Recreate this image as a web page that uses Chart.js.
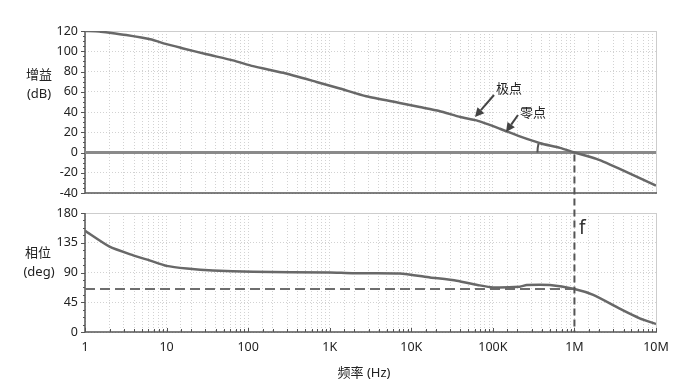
<!DOCTYPE html>
<html><head><meta charset="utf-8">
<script src="https://cdn.jsdelivr.net/npm/chart.js@4"></script>
<style>
html,body{margin:0;padding:0;background:#fff;overflow:hidden}
#wrap{position:relative;width:687px;height:381px}
canvas{position:absolute;left:0;top:0}
</style></head><body>
<div id="wrap"><canvas id="c1" width="687" height="381"></canvas><canvas id="c2" width="687" height="381"></canvas></div>
<script>
// ---- data ----
const freqGain = [1, 1.5, 2, 3.2, 6.3, 10, 16, 31, 65, 115, 270, 690, 1330, 2800, 7200, 12700, 22000, 40000, 63000, 122000, 214000, 380000, 665000, 1000000, 1860000, 4000000, 10000000];
const gainDb   = [120, 119.5, 118.3, 116, 111.8, 107, 102.8, 97, 91, 85.3, 78.7, 69.7, 63.2, 55.5, 48.9, 44.9, 41, 35, 31.7, 23.5, 15.9, 9.2, 4.6, 0, -6.3, -17.8, -32.7];
const freqPhase = [1, 2, 3.9, 6.3, 10, 17.7, 37, 115, 1000, 1900, 7200, 17000, 36000, 69000, 100000, 214000, 260000, 500000, 1000000, 1700000, 3900000, 6300000, 10000000];
const phaseDeg  = [153, 129, 116, 108, 100, 96, 93, 91, 90, 89, 88.6, 82.6, 77.6, 70.5, 67.5, 68.5, 71, 71, 65, 56, 33, 20.7, 12];
const zeroLineFreq = [1, 10000000];
const zeroLineDb = [0, 0];
const refPhaseFreq = [1, 1000000];
const refPhaseDeg = [65, 65];
const crossoverFreq = 1000000;
const xTickLabels = ['1', '10', '100', '1K', '10K', '100K', '1M', '10M'];
const gainRange = [-40, 120], gainStep = 20;
const phaseRange = [0, 180], phaseStep = 45;

const FONT = '"Noto Sans", "Noto Sans CJK SC", sans-serif';
const AXIS = '#555';
const GRID = '#d2d2d2';
const CURVE = '#686868';
const TXT = '#222';

const pts = (xs, ys) => xs.map((x, i) => ({x: x, y: ys[i]}));

function xLabel(v) {
  const l = Math.log10(v);
  const r = Math.round(l);
  if (Math.abs(l - r) < 1e-6 && r >= 0 && r < xTickLabels.length) return xTickLabels[r];
  return '';
}

function xScale(showLabels, h) {
  return {
    type: 'logarithmic', min: 1, max: 1e7,
    grid: {color: GRID, lineWidth: 1, drawTicks: false},
    border: {display: false, dash: [1, 2]},
    ticks: {display: showLabels, autoSkip: false, maxRotation: 0, minRotation: 0, padding: 8,
            color: TXT, font: {family: FONT, size: 12.5}, callback: (v) => xLabel(v)},
    afterFit: (s) => { s.height = h; }
  };
}
function yScale(range, step) {
  return {
    type: 'linear', min: range[0], max: range[1],
    grid: {color: GRID, lineWidth: 1, drawTicks: false},
    border: {display: false, dash: [1, 2]},
    ticks: {stepSize: step, padding: 7, color: TXT, font: {family: FONT, size: 12.5}},
    afterFit: (s) => { s.width = 85; }
  };
}

function frame(ctx, ca, topLight) {
  ctx.save();
  ctx.strokeStyle = '#cdcdcd'; ctx.lineWidth = 1;
  ctx.beginPath();
  ctx.moveTo(ca.left, ca.top + 0.5); ctx.lineTo(ca.right + 0.5, ca.top + 0.5);
  ctx.lineTo(ca.right + 0.5, ca.bottom);
  ctx.stroke();
  ctx.strokeStyle = AXIS; ctx.lineWidth = 1.5;
  ctx.beginPath();
  ctx.moveTo(ca.left, ca.top); ctx.lineTo(ca.left, ca.bottom); ctx.lineTo(ca.right + 1, ca.bottom);
  ctx.stroke();
  ctx.restore();
}
function yTicks(ctx, chart, range, major, minor) {
  const s = chart.scales.y, ca = chart.chartArea;
  ctx.save(); ctx.strokeStyle = AXIS; ctx.lineWidth = 1;
  for (let v = range[0]; v <= range[1] + 1e-9; v += minor) {
    const y = Math.round(s.getPixelForValue(v)) + 0.5;
    const isMajor = Math.abs((v - range[0]) % major) < 1e-6 || Math.abs(((v - range[0]) % major) - major) < 1e-6;
    const len = isMajor ? 4 : 2;
    ctx.beginPath(); ctx.moveTo(ca.left - len, y); ctx.lineTo(ca.left, y); ctx.stroke();
  }
  ctx.restore();
}
function arrow(ctx, x1, y1, x2, y2) {
  const a = Math.atan2(y2 - y1, x2 - x1);
  const hl = 9, hw = 4.5;
  const bx = x2 - hl * Math.cos(a), by = y2 - hl * Math.sin(a);
  ctx.beginPath(); ctx.moveTo(x1, y1); ctx.lineTo(bx, by); ctx.stroke();
  ctx.beginPath();
  ctx.moveTo(x2, y2);
  ctx.lineTo(bx + hw * Math.sin(a), by - hw * Math.cos(a));
  ctx.lineTo(bx - hw * Math.sin(a), by + hw * Math.cos(a));
  ctx.closePath(); ctx.fill();
}

const topPlugin = {
  id: 'topDecor',
  beforeDatasetsDraw(chart) {
    frame(chart.ctx, chart.chartArea);
    yTicks(chart.ctx, chart, gainRange, gainStep, 5);
  },
  afterDatasetsDraw(chart) {
    const ctx = chart.ctx;
    const xs = chart.scales.x, ys = chart.scales.y;
    const cx = xs.getPixelForValue(crossoverFreq), cy = ys.getPixelForValue(0);
    ctx.save();
    ctx.strokeStyle = '#444'; ctx.fillStyle = '#444'; ctx.lineWidth = 2;
    arrow(ctx, 494, 95, 475, 117);
    arrow(ctx, 518, 115, 506, 132);
    // angle arc
    ctx.strokeStyle = '#555'; ctx.lineWidth = 2;
    ctx.beginPath(); ctx.arc(cx, cy, 37, Math.PI, Math.PI + 0.24); ctx.stroke();
    ctx.fillStyle = TXT;
    ctx.font = '13px ' + FONT;
    ctx.textBaseline = 'middle'; ctx.textAlign = 'left';
    ctx.fillText('极点', 496, 89);
    ctx.fillText('零点', 520, 113);
    ctx.restore();
  }
};

const commonOpts = {
  responsive: false, animation: false, events: [],
  plugins: {legend: {display: false}, tooltip: {enabled: false}},
  elements: {point: {radius: 0}, line: {tension: 0.2}}
};

const chart1 = new Chart(document.getElementById('c1'), {
  type: 'line',
  data: {datasets: [
    {data: pts(freqGain, gainDb), borderColor: CURVE, borderWidth: 2.5, order: 0, fill: false},
    {data: pts(zeroLineFreq, zeroLineDb), borderColor: '#8a8a8a', borderWidth: 3, order: 1, fill: false, tension: 0}
  ]},
  options: Object.assign({}, commonOpts, {
    layout: {padding: {top: 31, right: 31, bottom: 188, left: 0}},
    scales: {x: xScale(false, 0), y: yScale(gainRange, gainStep)}
  }),
  plugins: [topPlugin]
});

const bottomPlugin = {
  id: 'bottomDecor',
  beforeDatasetsDraw(chart) {
    const ctx = chart.ctx, ca = chart.chartArea;
    frame(ctx, ca);
    yTicks(ctx, chart, phaseRange, phaseStep, 11.25);
    ctx.save(); ctx.strokeStyle = AXIS; ctx.lineWidth = 1;
    chart.scales.x.ticks.forEach(t => {
      const x = Math.round(chart.scales.x.getPixelForValue(t.value)) + 0.5;
      const len = xLabel(t.value) ? 4 : 3;
      ctx.beginPath(); ctx.moveTo(x, ca.bottom); ctx.lineTo(x, ca.bottom - len); ctx.stroke();
    });
    ctx.restore();
  },
  afterDatasetsDraw(chart) {
    const ctx = chart.ctx, ca = chart.chartArea;
    const x = chart.scales.x.getPixelForValue(crossoverFreq);
    const yTop = chart1.scales.y.getPixelForValue(0);
    ctx.save();
    ctx.strokeStyle = '#555'; ctx.lineWidth = 2; ctx.setLineDash([7, 4]);
    ctx.beginPath(); ctx.moveTo(x, yTop + 2); ctx.lineTo(x, ca.bottom); ctx.stroke();
    ctx.setLineDash([]);
    ctx.fillStyle = '#333';
    ctx.font = '19px ' + FONT; ctx.textAlign = 'left'; ctx.textBaseline = 'middle';
    ctx.fillText('f', 579, 229);
    ctx.fillStyle = TXT; ctx.font = '13px ' + FONT; ctx.textAlign = 'center';
    ctx.fillText('增益', 39, 75);
    ctx.fillText('(dB)', 39, 94);
    ctx.fillText('相位', 38, 253);
    ctx.fillText('(deg)', 39, 272);
    ctx.fillText('频率 (Hz)', 364, 373);
    ctx.restore();
  }
};

const chart2 = new Chart(document.getElementById('c2'), {
  type: 'line',
  data: {datasets: [
    {data: pts(freqPhase, phaseDeg), borderColor: CURVE, borderWidth: 2.5, order: 0, fill: false},
    {data: pts(refPhaseFreq, refPhaseDeg), borderColor: '#6e6e6e', borderWidth: 2, borderDash: [10, 5], order: 1, fill: false, tension: 0}
  ]},
  options: Object.assign({}, commonOpts, {
    layout: {padding: {top: 213, right: 31, bottom: 0, left: 0}},
    scales: {x: xScale(true, 49), y: yScale(phaseRange, phaseStep)}
  }),
  plugins: [bottomPlugin]
});
</script>
</body></html>
